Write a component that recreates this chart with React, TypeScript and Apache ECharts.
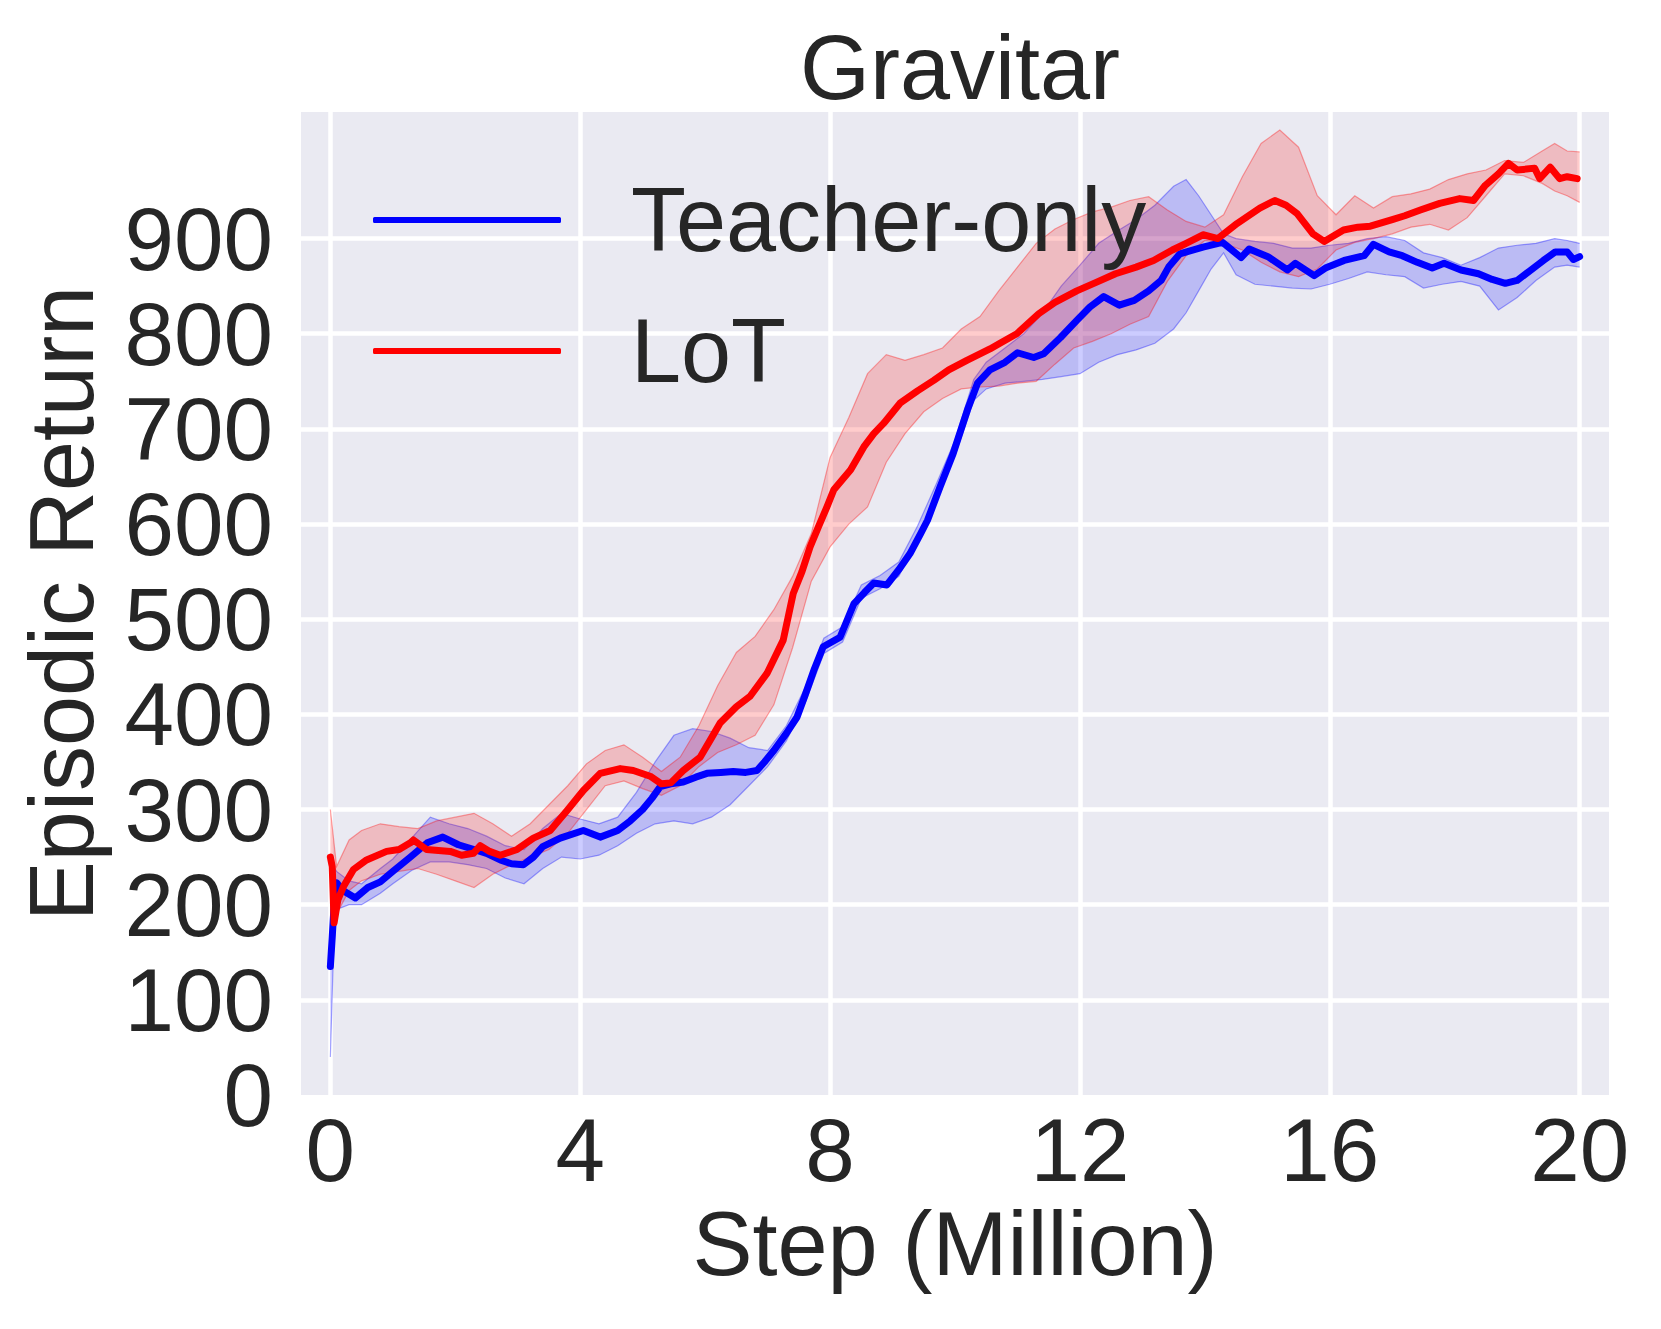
import React, { useEffect, useRef } from "react";
import * as echarts from "echarts";

// ---- data ----
const xTicks = [0, 4, 8, 12, 16, 20];
const yTicks = [0, 100, 200, 300, 400, 500, 600, 700, 800, 900];

const teacherX = [0, 0.03, 0.06, 0.1, 0.2, 0.4, 0.6, 0.8, 1.0, 1.28, 1.55, 1.8, 2.05, 2.3, 2.5, 2.72, 2.9, 3.09, 3.25, 3.4, 3.68, 4.05, 4.32, 4.6, 4.8, 5.0, 5.15, 5.28, 5.45, 5.65, 5.85, 6.03, 6.25, 6.45, 6.65, 6.83, 6.95, 7.1, 7.3, 7.47, 7.6, 7.75, 7.89, 8.16, 8.38, 8.55, 8.7, 8.91, 9.1, 9.28, 9.45, 9.56, 9.76, 9.97, 10.2, 10.36, 10.56, 10.8, 11.0, 11.26, 11.42, 11.69, 11.95, 12.16, 12.38, 12.63, 12.87, 13.1, 13.3, 13.42, 13.6, 13.97, 14.28, 14.34, 14.58, 14.71, 15.01, 15.32, 15.45, 15.75, 15.93, 16.23, 16.55, 16.7, 16.95, 17.16, 17.4, 17.64, 17.83, 18.1, 18.38, 18.6, 18.81, 19.0, 19.2, 19.42, 19.61, 19.8, 19.9, 20.0];
const teacherY = [135, 166, 200, 223, 215, 207, 218, 224, 235, 250, 265, 271, 263, 258, 254, 247, 243, 242, 250, 261, 270, 278, 271, 278, 288, 300, 312, 324, 327, 329, 334, 338, 339, 340, 339, 341, 350, 362, 380, 397, 420, 448, 471, 481, 516, 528, 538, 536, 552, 569, 590, 604, 639, 674, 720, 748, 762, 770, 780, 775, 779, 796, 814, 828, 839, 830, 835, 845, 856, 870, 884, 891, 896, 893, 880, 889, 881, 867, 874, 861, 869, 877, 882, 894, 886, 882, 875, 869, 874, 867, 863, 857, 853, 856, 866, 877, 886, 886, 878, 881];

const lotX = [0, 0.03, 0.06, 0.12, 0.21, 0.37, 0.58, 0.9, 1.1, 1.28, 1.33, 1.54, 1.92, 2.1, 2.29, 2.4, 2.55, 2.72, 2.99, 3.25, 3.52, 3.79, 4.05, 4.32, 4.64, 4.85, 5.12, 5.3, 5.45, 5.65, 5.92, 6.1, 6.24, 6.5, 6.72, 6.99, 7.25, 7.41, 7.55, 7.68, 7.82, 7.95, 8.06, 8.33, 8.54, 8.7, 8.86, 9.12, 9.4, 9.66, 9.9, 10.19, 10.56, 10.72, 10.99, 11.34, 11.6, 11.95, 12.26, 12.57, 12.9, 13.18, 13.48, 13.7, 13.97, 14.21, 14.52, 14.88, 15.12, 15.3, 15.48, 15.73, 15.91, 16.22, 16.45, 16.65, 17.0, 17.2, 17.45, 17.76, 18.08, 18.3, 18.49, 18.7, 18.86, 19.0, 19.15, 19.28, 19.36, 19.53, 19.68, 19.8, 19.96];
const lotY = [250, 240, 181, 205, 219, 237, 247, 256, 258, 265, 268, 258, 256, 252, 254, 262, 256, 252, 258, 270, 278, 299, 320, 338, 343, 341, 335, 327, 328, 341, 355, 375, 391, 408, 419, 443, 478, 527, 550, 576, 598, 618, 636, 657, 681, 695, 706, 727, 740, 751, 762, 772, 784, 790, 800, 821, 833, 845, 854, 863, 870, 877, 888, 895, 904, 900, 916, 932, 940, 935, 926, 905, 897, 909, 912, 913, 920, 924, 930, 937, 942, 940, 956, 968, 979, 972, 973, 974, 963, 975, 963, 965, 963];

const teacherBandX = [0, 0.05, 0.1, 0.3, 0.5, 0.8, 1.0, 1.3, 1.6, 1.9, 2.2, 2.5, 2.8, 3.1, 3.4, 3.7, 4.0, 4.3, 4.6, 4.9, 5.2, 5.5, 5.8, 6.1, 6.4, 6.7, 7.0, 7.3, 7.6, 7.9, 8.2, 8.5, 8.8, 9.1, 9.4, 9.7, 10.0, 10.3, 10.5, 10.8, 11.1, 11.4, 11.7, 12.0, 12.3, 12.6, 12.9, 13.2, 13.5, 13.7, 13.9, 14.1, 14.3, 14.5, 14.8, 15.1, 15.4, 15.7, 16.0, 16.3, 16.6, 16.9, 17.2, 17.5, 17.8, 18.1, 18.4, 18.7, 19.0, 19.3, 19.6, 19.8, 20.0];
const teacherLow = [40, 150, 195, 200, 200, 212, 222, 236, 245, 245, 242, 238, 228, 222, 238, 250, 248, 252, 262, 275, 285, 288, 285, 292, 305, 325, 345, 372, 412, 464, 476, 522, 532, 545, 584, 625, 672, 730, 742, 748, 750, 752, 755, 758, 770, 778, 783, 790, 805, 822, 845, 868, 885, 862, 852, 850, 848, 847, 852, 858, 865, 862, 860, 848, 852, 855, 850, 825, 838, 856, 870, 872, 870];
const teacherHigh = [245, 240, 235, 225, 222, 238, 248, 270, 292, 285, 280, 272, 262, 258, 280, 296, 290, 285, 292, 318, 350, 378, 385, 382, 375, 365, 362, 388, 428, 480, 492, 536, 546, 560, 598, 642, 688, 752, 770, 785, 800, 822, 850, 872, 895, 908, 920, 935, 955, 962, 945, 925, 905, 900, 897, 895, 890, 890, 893, 895, 900, 902, 898, 885, 880, 872, 880, 890, 893, 895, 900, 898, 895];

const lotBandX = [0, 0.05, 0.1, 0.3, 0.5, 0.8, 1.1, 1.4, 1.7, 2.0, 2.3, 2.6, 2.9, 3.2, 3.5, 3.8, 4.1, 4.4, 4.7, 5.0, 5.3, 5.6, 5.9, 6.2, 6.5, 6.8, 7.1, 7.4, 7.7, 8.0, 8.3, 8.6, 8.9, 9.2, 9.5, 9.8, 10.1, 10.4, 10.7, 11.0, 11.3, 11.6, 11.9, 12.2, 12.5, 12.8, 13.1, 13.4, 13.7, 14.0, 14.3, 14.6, 14.9, 15.2, 15.5, 15.8, 16.1, 16.4, 16.7, 17.0, 17.3, 17.6, 17.9, 18.2, 18.5, 18.8, 19.1, 19.4, 19.6, 19.8, 20.0];
const lotLow = [180, 185, 190, 215, 225, 232, 235, 238, 232, 225, 218, 232, 242, 250, 258, 275, 300, 325, 330, 322, 315, 325, 345, 360, 368, 378, 410, 470, 540, 576, 600, 618, 665, 695, 718, 732, 742, 744, 745, 748, 750, 768, 785, 792, 800, 810, 818, 855, 882, 898, 895, 888, 875, 865, 860, 868, 888, 896, 900, 905, 912, 915, 909, 922, 945, 968, 966, 958, 950, 945, 938];
const lotHigh = [300, 270, 240, 268, 278, 285, 282, 280, 288, 292, 296, 285, 272, 285, 305, 325, 348, 362, 368, 355, 340, 355, 388, 430, 465, 482, 510, 545, 590, 670, 712, 758, 778, 772, 778, 785, 805, 818, 845, 870, 895, 910, 920, 928, 933, 940, 944, 930, 918, 912, 925, 965, 1000, 1014, 996, 945, 925, 945, 932, 944, 947, 952, 962, 968, 972, 982, 980, 992, 1000, 992, 991];

const FONT = "'Liberation Sans', Arial, sans-serif";
const TEXT = "#262626";

function bandSeries(key: string, xs: number[], low: number[], high: number[], edge: string, fill: string) {
  return {
    type: "custom",
    name: key,
    silent: true,
    z: 2,
    data: xs.map((x, i) => [x, low[i], high[i]]),
    encode: { x: 0, y: [1, 2] },
    renderItem: (params: any, api: any) => {
      if (params.dataIndex !== 0) return null;
      const lowPts = xs.map((x, i) => api.coord([x, low[i]]));
      const highPts = xs.map((x, i) => api.coord([x, high[i]]));
      const poly = highPts.concat(lowPts.slice().reverse());
      return {
        type: "group",
        children: [
          { type: "polygon", shape: { points: poly }, style: { fill, stroke: "none" } },
          { type: "polyline", shape: { points: lowPts }, style: { fill: "none", stroke: edge, lineWidth: 1.2 } },
          { type: "polyline", shape: { points: highPts }, style: { fill: "none", stroke: edge, lineWidth: 1.2 } },
        ],
      };
    },
  };
}

export default function App() {
  const ref = useRef<HTMLDivElement>(null);
  useEffect(() => {
    if (!ref.current) return;
    const chart = echarts.init(ref.current, null, { renderer: "svg" });
    const gridLine = { color: "#ffffff", width: 4.5, type: "solid" };
    chart.setOption({
      animation: false,
      backgroundColor: "#ffffff",
      textStyle: { fontFamily: FONT },
      title: {
        text: "Gravitar",
        left: 955,
        textAlign: "center",
        top: 18,
        textStyle: { fontFamily: FONT, fontSize: 90, fontWeight: "normal", color: TEXT },
      },
      grid: {
        left: 301,
        top: 112,
        right: 52,
        bottom: 234,
        show: true,
        backgroundColor: "#EAEAF2",
        borderWidth: 0,
        containLabel: false,
      },
      legend: {
        data: ["Teacher-only", "LoT"],
        orient: "vertical",
        left: 368,
        top: 170,
        icon: "roundRect",
        itemWidth: 188,
        itemHeight: 6,
        itemGap: 41,
        z: 10,
        textStyle: { fontFamily: FONT, fontSize: 90, color: TEXT, padding: [0, 0, 0, 65] },
      },
      xAxis: {
        type: "value",
        min: -0.47,
        max: 20.47,
        name: "Step (Million)",
        nameLocation: "middle",
        nameGap: 102,
        nameTextStyle: { fontFamily: FONT, fontSize: 90, color: TEXT },
        axisLine: { show: false },
        axisTick: { show: false },
        splitLine: { show: false },
        axisLabel: { customValues: xTicks, fontFamily: FONT, fontSize: 89, color: TEXT, margin: 10 },
      },
      yAxis: {
        type: "value",
        min: 0,
        max: 1033,
        name: "Episodic Return",
        nameLocation: "middle",
        nameGap: 194,
        nameTextStyle: { fontFamily: FONT, fontSize: 90, color: TEXT },
        axisLine: { show: false },
        axisTick: { show: false },
        splitLine: { show: false },
        axisLabel: { customValues: yTicks, fontFamily: FONT, fontSize: 89, color: TEXT, margin: 28 },
      },
      series: [
        {
          type: "line",
          name: "grid",
          data: [],
          silent: true,
          z: 1,
          markLine: {
            silent: true,
            z: 1,
            symbol: ["none", "none"],
            label: { show: false },
            lineStyle: gridLine,
            emphasis: { disabled: true },
            data: [
              ...xTicks.map((v) => ({ xAxis: v })),
              ...yTicks.filter((v) => v > 0).map((v) => ({ yAxis: v })),
            ],
          },
        },
        bandSeries("teacherBand", teacherBandX, teacherLow, teacherHigh, "rgba(0,0,255,0.35)", "rgba(0,0,255,0.2)"),
        bandSeries("lotBand", lotBandX, lotLow, lotHigh, "rgba(255,0,0,0.35)", "rgba(255,0,0,0.2)"),
        {
          type: "line",
          name: "Teacher-only",
          data: teacherX.map((x, i) => [x, teacherY[i]]),
          symbol: "none",
          showSymbol: false,
          itemStyle: { color: "#0000ff" },
          lineStyle: { width: 7, color: "#0000ff", cap: "round", join: "round" },
          z: 3,
        },
        {
          type: "line",
          name: "LoT",
          data: lotX.map((x, i) => [x, lotY[i]]),
          symbol: "none",
          showSymbol: false,
          itemStyle: { color: "#ff0000" },
          lineStyle: { width: 7, color: "#ff0000", cap: "round", join: "round" },
          z: 3,
        },
      ],
    });
    return () => chart.dispose();
  }, []);
  return (
    <div
      ref={ref}
      style={{ position: "fixed", left: 0, top: 0, width: 1661, height: 1329 }}
    />
  );
}
